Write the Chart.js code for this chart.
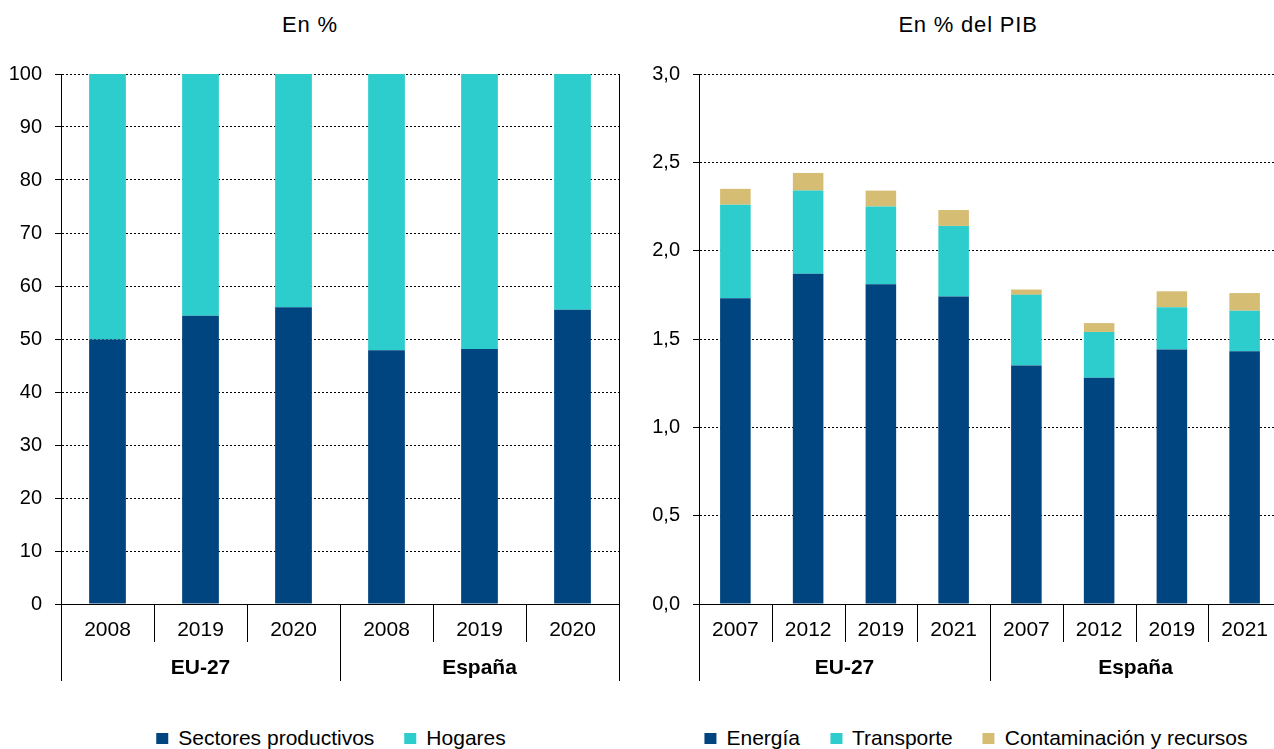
<!DOCTYPE html>
<html lang="es">
<head>
<meta charset="utf-8">
<title>Gasto medioambiental</title>
<script src="https://cdn.jsdelivr.net/npm/chart.js@4.4.1/dist/chart.umd.min.js"></script>
<style>
    body {
        margin: 0;
        width: 1274px;
        height: 749px;
        overflow: hidden;
        position: relative;
        background: #fff;
        font-family: "Liberation Sans", Arial, sans-serif;
        color: #000;
    }
    .panel { position: absolute; top: 0; height: 700px; }
    #panel-left { left: 0; width: 637px; }
    #panel-right { left: 637px; width: 660px; }
    .chart-title {
        position: absolute;
        top: 12px;
        font-size: 22px;
        line-height: 25px;
        letter-spacing: 0.8px;
        white-space: nowrap;
        transform: translateX(-50%);
    }
    .chart-legend {
        position: absolute;
        top: 727px;
        display: flex;
        gap: 30px;
        font-size: 21px;
        line-height: 22px;
        white-space: nowrap;
        transform: translateX(-50%);
    }
    .chart-legend .item { display: flex; align-items: center; }
    .chart-legend .box { width: 12px; height: 11px; margin-right: 10px; }
</style>
</head>
<body>
<div class="chart-title" style="left:310px">En %</div>
<div class="chart-title" style="left:968px">En % del PIB</div>

<div class="panel" id="panel-left"><canvas id="chart-pct" width="637" height="700"></canvas></div>
<div class="panel" id="panel-right"><canvas id="chart-pib" width="660" height="700"></canvas></div>

<div class="chart-legend" id="legend-pct" style="left:331px"></div>
<div class="chart-legend" id="legend-pib" style="left:976px"></div>

<script>
// Reparto del gasto (%)
const yearsPct = ['2008', '2019', '2020', '2008', '2019', '2020'];
const groupsPct = ['EU-27', 'España'];
const groupSizePct = [3, 3];
const sectores = [49.9, 54.4, 56.0, 47.9, 48.1, 55.5];
const hogares = [50.1, 45.6, 44.0, 52.1, 51.9, 44.5];

// Gasto en % del PIB
const yearsPib = ['2007', '2012', '2019', '2021', '2007', '2012', '2019', '2021'];
const groupsPib = ['EU-27', 'España'];
const groupSizePib = [4, 4];
const energia = [1.73, 1.87, 1.81, 1.74, 1.35, 1.28, 1.44, 1.43];
const transporte = [0.53, 0.47, 0.44, 0.40, 0.40, 0.26, 0.24, 0.23];
const contaminacion = [0.09, 0.10, 0.09, 0.09, 0.03, 0.05, 0.09, 0.10];

const ticksPct = { min: 0, max: 100, step: 10 };
const ticksPib = { min: 0, max: 3, step: 0.5 };

const DARK_BLUE = '#00457F';
const TURQUOISE = '#2ECDCD';
const SAND = '#D6BD74';

Chart.defaults.font.family = '"Liberation Sans", Arial, sans-serif';
Chart.defaults.color = '#000';

// Two-level category axis: years on the first row, country groups below
const groupAxis = {
    id: 'groupAxis',
    afterDraw(chart, args, opts) {
        const { ctx, chartArea } = chart;
        const x = chart.scales.x;
        const labels = chart.data.labels;
        const n = labels.length;
        const step = (chartArea.right - chartArea.left) / n;
        const bottom = chartArea.bottom;

        // group boundaries (category index where each group starts)
        const starts = [0];
        opts.sizes.forEach(s => starts.push(starts[starts.length - 1] + s));

        ctx.save();
        ctx.strokeStyle = '#000';
        ctx.lineWidth = 1;
        for (let i = 0; i <= n; i++) {
            const px = Math.round(chartArea.left + i * step) + 0.5;
            const len = starts.includes(i) ? 77 : 38;
            ctx.beginPath();
            ctx.moveTo(px, bottom);
            ctx.lineTo(px, bottom + len);
            ctx.stroke();
        }

        if (opts.rightBorder) {
            const px = Math.round(chartArea.right) + 0.5;
            ctx.beginPath();
            ctx.moveTo(px, chartArea.top);
            ctx.lineTo(px, bottom);
            ctx.stroke();
        }

        ctx.fillStyle = '#000';
        ctx.textAlign = 'center';
        ctx.textBaseline = 'middle';
        ctx.font = '21px "Liberation Sans", Arial, sans-serif';
        labels.forEach((lab, i) => {
            ctx.fillText(lab, x.getPixelForValue(i), bottom + 26);
        });

        ctx.font = 'bold 21px "Liberation Sans", Arial, sans-serif';
        opts.groups.forEach((g, k) => {
            const left = chartArea.left + starts[k] * step;
            const right = chartArea.left + starts[k + 1] * step;
            ctx.fillText(g, (left + right) / 2, bottom + 64);
        });
        ctx.restore();
    }
};

function makeOptions(range, barPct, yWidth, padRight, fmt, groups, sizes, rightBorder) {
    return {
        responsive: false,
        animation: false,
        layout: { padding: { top: 74, right: padRight, bottom: 16, left: 0 } },
        datasets: { bar: { categoryPercentage: 1, barPercentage: barPct } },
        plugins: {
            legend: { display: false },
            title: { display: false },
            tooltip: { enabled: false },
            groupAxis: { groups: groups, sizes: sizes, rightBorder: rightBorder }
        },
        scales: {
            x: {
                stacked: true,
                ticks: { display: false },
                grid: { display: false },
                border: { display: true, color: '#000', width: 1 },
                afterFit(scale) { scale.height = 80; }
            },
            y: {
                stacked: true,
                min: range.min,
                max: range.max,
                ticks: {
                    stepSize: range.step,
                    padding: 13,
                    color: '#000',
                    font: { size: 20 },
                    callback: fmt
                },
                grid: { color: '#000', lineWidth: 1, tickLength: 6, tickColor: '#000' },
                border: { display: true, color: '#000', width: 1, dash: [2, 2] },
                afterFit(scale) { scale.width = yWidth; }
            }
        }
    };
}

const chartPct = new Chart(document.getElementById('chart-pct'), {
    type: 'bar',
    data: {
        labels: yearsPct,
        datasets: [
            { label: 'Sectores productivos', data: sectores, backgroundColor: DARK_BLUE },
            { label: 'Hogares', data: hogares, backgroundColor: TURQUOISE }
        ]
    },
    options: makeOptions(ticksPct, 0.395, 61, 18, v => v, groupsPct, groupSizePct, true),
    plugins: [groupAxis]
});

const chartPib = new Chart(document.getElementById('chart-pib'), {
    type: 'bar',
    data: {
        labels: yearsPib,
        datasets: [
            { label: 'Energía', data: energia, backgroundColor: DARK_BLUE },
            { label: 'Transporte', data: transporte, backgroundColor: TURQUOISE },
            { label: 'Contaminación y recursos', data: contaminacion, backgroundColor: SAND }
        ]
    },
    options: makeOptions(ticksPib, 0.42, 62, 16, v => v.toFixed(1).replace('.', ','), groupsPib, groupSizePib, false),
    plugins: [groupAxis]
});

// HTML legends built from the datasets
function buildLegend(chart, id) {
    const el = document.getElementById(id);
    chart.data.datasets.forEach(ds => {
        const item = document.createElement('div');
        item.className = 'item';
        const box = document.createElement('span');
        box.className = 'box';
        box.style.background = ds.backgroundColor;
        const txt = document.createElement('span');
        txt.textContent = ds.label;
        item.appendChild(box);
        item.appendChild(txt);
        el.appendChild(item);
    });
}
buildLegend(chartPct, 'legend-pct');
buildLegend(chartPib, 'legend-pib');
</script>
</body>
</html>
